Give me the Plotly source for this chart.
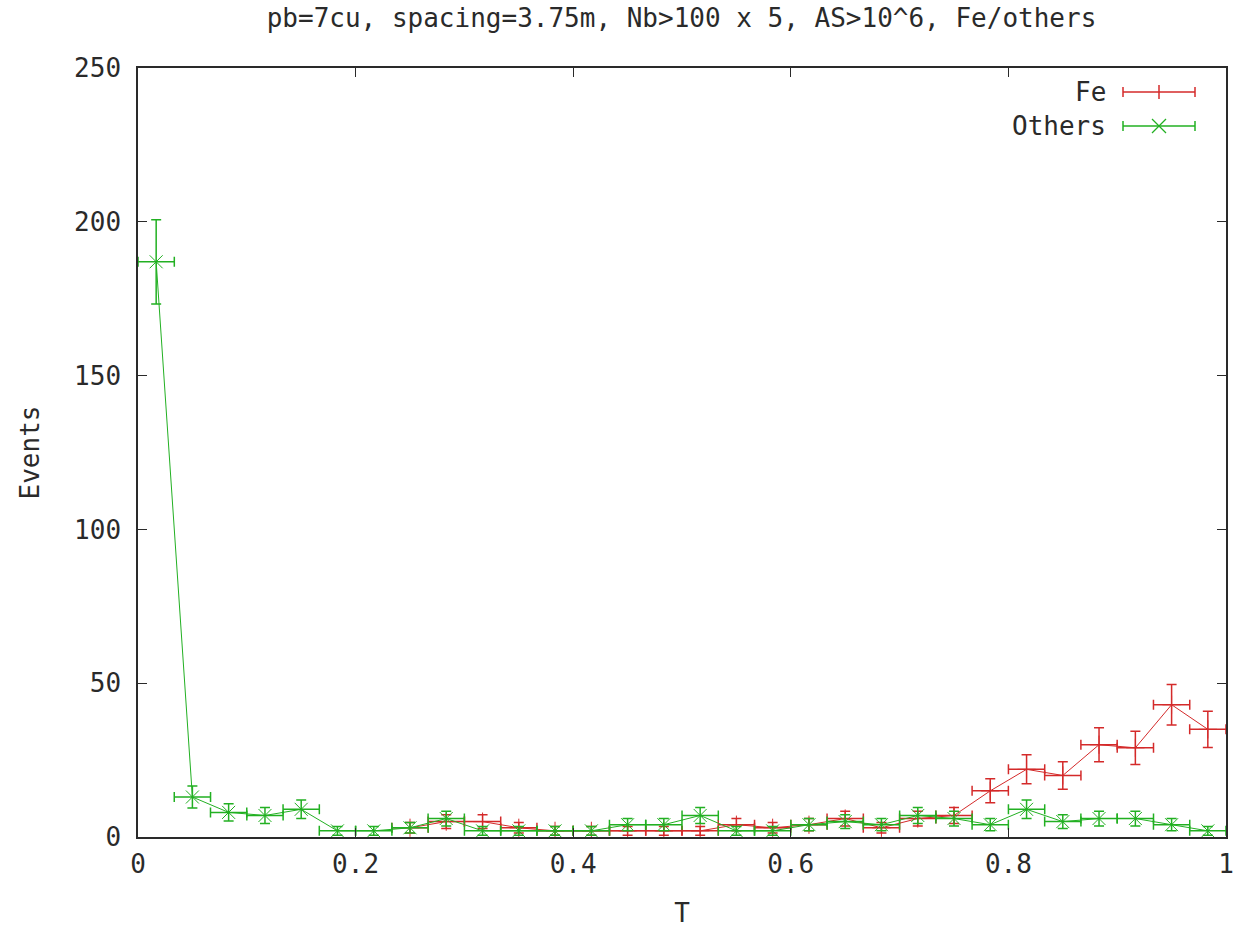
import plotly.graph_objects as go

# ---- data ----
others_T = [0.0167, 0.05, 0.0833, 0.1167, 0.15, 0.1833, 0.2167, 0.25, 0.2833, 0.3167,
            0.35, 0.3833, 0.4167, 0.45, 0.4833, 0.5167, 0.55, 0.5833, 0.6167, 0.65,
            0.6833, 0.7167, 0.75, 0.7833, 0.8167, 0.85, 0.8833, 0.9167, 0.95, 0.9833]
others_events = [187, 13, 8, 7, 9, 2, 2, 3, 6, 2,
                 2, 2, 2, 4, 4, 7, 2, 2, 4, 5,
                 4, 7, 6, 4, 9, 5, 6, 6, 4, 2]
others_err = [13.7, 3.6, 2.8, 2.6, 3.0, 1.4, 1.4, 1.7, 2.4, 1.4,
              1.4, 1.4, 1.4, 2.0, 2.0, 2.6, 1.4, 1.4, 2.0, 2.2,
              2.0, 2.6, 2.4, 2.0, 3.0, 2.2, 2.4, 2.4, 2.0, 1.4]

fe_T = [0.25, 0.2833, 0.3167, 0.35, 0.3833, 0.4167, 0.45, 0.4833, 0.5167, 0.55,
        0.5833, 0.6167, 0.65, 0.6833, 0.7167, 0.75, 0.7833, 0.8167, 0.85, 0.8833,
        0.9167, 0.95, 0.9833]
fe_events = [3, 5, 5, 3, 2, 2, 2, 2, 2, 4,
             3, 4, 6, 3, 6, 7, 15, 22, 20, 30,
             29, 43, 35]
fe_err = [1.7, 2.2, 2.2, 1.7, 1.4, 1.4, 1.4, 1.4, 1.4, 2.0,
          1.7, 2.0, 2.4, 1.7, 2.4, 2.6, 3.9, 4.7, 4.5, 5.5,
          5.4, 6.6, 5.9]
bin_half_width = 0.01667

x_ticks = [0, 0.2, 0.4, 0.6, 0.8, 1]
x_tick_labels = ["0", "0.2", "0.4", "0.6", "0.8", "1"]
y_ticks = [0, 50, 100, 150, 200, 250]

title_text = "pb=7cu, spacing=3.75m, Nb>100 x 5, AS>10^6, Fe/others"
RED = "#d42a2a"
GREEN = "#22b022"
FONT = "DejaVu Sans Mono"
FS = 26
TXT = "#2a2a2a"

fig = go.Figure()


def add_series(x, y, err, color, symbol, name):
    fig.add_trace(go.Scatter(
        x=x, y=y, name=name, mode="lines+markers",
        line=dict(color=color, width=1),
        marker=dict(symbol=symbol, size=13, color=color, line=dict(color=color, width=1)),
        error_y=dict(type="data", array=err, visible=True, color=color, thickness=1.5, width=5),
        error_x=dict(type="constant", value=bin_half_width, visible=True, color=color,
                     thickness=1.5, width=5),
        showlegend=False, cliponaxis=True,
    ))


add_series(fe_T, fe_events, fe_err, RED, "cross-thin-open", "Fe")
add_series(others_T, others_events, others_err, GREEN, "x-thin-open", "Others")

# ---- gnuplot-style key (top right) ----
L, R, T, B = 138, 1226, 68, 837
W, H = R - L, B - T


def px(xp):
    return (xp - L) / W


def py(yp):
    return (B - yp) / H


shapes = []
annotations = []
for label, color, ypix, mark in [("Fe", RED, 92, "plus"), ("Others", GREEN, 126, "x")]:
    annotations.append(dict(x=px(1108), y=py(ypix), xref="paper", yref="paper",
                            text=label, showarrow=False, xanchor="right", yanchor="middle",
                            font=dict(family=FONT, size=FS, color=TXT)))
    x0, x1, xc = px(1123), px(1195), px(1159)
    shapes.append(dict(type="line", xref="paper", yref="paper", x0=x0, x1=x1,
                       y0=py(ypix), y1=py(ypix), line=dict(color=color, width=1.5)))
    for xe in (x0, x1):
        shapes.append(dict(type="line", xref="paper", yref="paper", x0=xe, x1=xe,
                           y0=py(ypix - 5), y1=py(ypix + 5), line=dict(color=color, width=1.5)))
    if mark == "plus":
        shapes.append(dict(type="line", xref="paper", yref="paper", x0=xc, x1=xc,
                           y0=py(ypix - 7), y1=py(ypix + 7), line=dict(color=color, width=1.5)))
    else:
        shapes.append(dict(type="line", xref="paper", yref="paper", x0=px(1152), x1=px(1166),
                           y0=py(ypix - 7), y1=py(ypix + 7), line=dict(color=color, width=1.2)))
        shapes.append(dict(type="line", xref="paper", yref="paper", x0=px(1152), x1=px(1166),
                           y0=py(ypix + 7), y1=py(ypix - 7), line=dict(color=color, width=1.2)))

axis_common = dict(
    showgrid=False, zeroline=False, showline=True, linecolor=TXT, linewidth=1.5,
    mirror="ticks", ticks="inside", ticklen=9, tickwidth=1.2, tickcolor=TXT,
    tickfont=dict(family=FONT, size=FS, color=TXT), automargin=False,
)

fig.update_layout(
    width=1240, height=928,
    margin=dict(l=L, r=1240 - R, t=T, b=928 - B),
    paper_bgcolor="white", plot_bgcolor="white",
    title=dict(text=title_text, x=(258 + 1105) / 2 / 1240, xanchor="center",
               y=1 - 18 / 928, yanchor="middle",
               font=dict(family=FONT, size=FS, color=TXT)),
    xaxis=dict(range=[0, 1], tickvals=x_ticks, ticktext=x_tick_labels,
               ticklabelstandoff=3,
               title=dict(text="T", font=dict(family=FONT, size=FS, color=TXT), standoff=35),
               **axis_common),
    yaxis=dict(range=[0, 250], tickvals=y_ticks, ticklabelstandoff=10,
               title=dict(text="Events", font=dict(family=FONT, size=FS, color=TXT), standoff=27),
               **axis_common),
    shapes=shapes, annotations=annotations,
)

fig.write_html("out.html")
